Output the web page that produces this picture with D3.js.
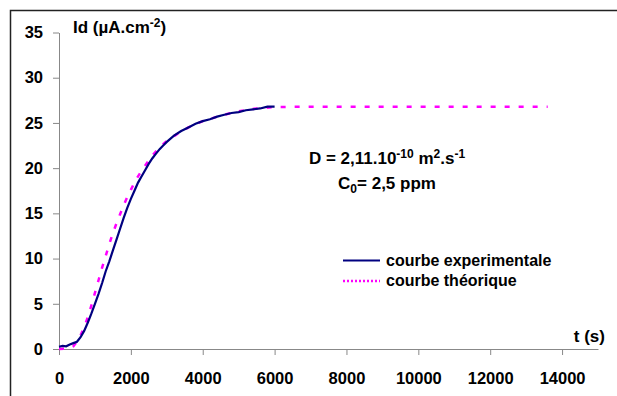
<!DOCTYPE html>
<html lang="fr">
<head>
    <meta charset="UTF-8">
    <title>Id en fonction du temps</title>
    <script src="https://d3js.org/d3.v7.min.js"></script>
    <style>
        body { margin: 0; background: #fff; }
        text { font-family: "Liberation Sans", Arial, sans-serif; font-weight: bold; fill: #000; }
        .axis path, .axis line { stroke: #888; }
        .axis text { font-size: 16.5px; font-family: "Liberation Sans", Arial, sans-serif; font-weight: bold; }
    </style>
</head>
<body>
    <svg width="617" height="396"></svg>

    <script>
        const experimental = [
            [0, 0.25], [100, 0.35], [200, 0.3], [300, 0.5], [400, 0.65], [500, 0.8],
            [600, 1.3], [700, 2.0], [800, 2.9], [900, 3.9], [1000, 5.0], [1100, 6.1],
            [1200, 7.3], [1300, 8.6], [1400, 9.7], [1500, 10.9], [1600, 12.1], [1700, 13.3],
            [1800, 14.5], [1900, 15.6], [2000, 16.6], [2100, 17.5], [2200, 18.4], [2300, 19.1],
            [2400, 19.8], [2500, 20.5], [2600, 21.1], [2700, 21.6], [2800, 22.1], [2900, 22.5],
            [3000, 22.9], [3200, 23.6], [3400, 24.1], [3600, 24.5], [3800, 24.9], [4000, 25.2],
            [4200, 25.4], [4400, 25.7], [4600, 25.9], [4800, 26.1], [5000, 26.2], [5200, 26.4],
            [5400, 26.5], [5600, 26.6], [5800, 26.8], [6000, 26.8]
        ];

        // Theoretical curve
        const theoretical = [
            [0, 0], [200, 0.02], [300, 0.1], [400, 0.3], [500, 0.8], [600, 1.5],
            [700, 2.4], [800, 3.5], [900, 4.8], [1000, 6.2], [1100, 7.6], [1200, 9.0],
            [1300, 10.3], [1400, 11.6], [1500, 12.8], [1600, 13.9], [1700, 14.9], [1800, 15.9],
            [1900, 16.8], [2000, 17.6], [2100, 18.4], [2200, 19.1], [2300, 19.7], [2400, 20.3],
            [2600, 21.4], [2800, 22.3], [3000, 23.0], [3300, 23.8], [3600, 24.5], [4000, 25.2],
            [4500, 25.8], [5000, 26.3], [5500, 26.6], [6000, 26.75], [7000, 26.8], [8000, 26.8],
            [9000, 26.8], [10000, 26.8], [11000, 26.8], [12000, 26.8], [13000, 26.8], [13600, 26.8]
        ];

        const xTicks = [0, 2000, 4000, 6000, 8000, 10000, 12000, 14000];
        const yTicks = [0, 5, 10, 15, 20, 25, 30, 35];
        const seriesNames = ["courbe experimentale", "courbe théorique"];

        const svg = d3.select("svg");

        // outer frame (cut off on the right and bottom)
        svg.append("rect")
            .attr("x", 10.5).attr("y", 10.5)
            .attr("width", 700).attr("height", 500)
            .attr("fill", "none")
            .attr("stroke", "#222")
            .attr("stroke-width", 1.5);

        const x = d3.scaleLinear().domain([0, 15000]).range([59, 598]);
        const y = d3.scaleLinear().domain([0, 35]).range([349, 32.5]);

        // Axes
        svg.append("g")
            .attr("class", "axis")
            .attr("transform", "translate(0,349)")
            .call(d3.axisBottom(x).tickValues(xTicks).tickFormat(d3.format("d"))
                .tickSize(6).tickSizeOuter(0).tickPadding(17));

        svg.append("g")
            .attr("class", "axis")
            .attr("transform", "translate(59,0)")
            .call(d3.axisLeft(y).tickValues(yTicks).tickSize(6).tickSizeOuter(0).tickPadding(10));

        svg.selectAll(".axis text").attr("fill", "#000");

        const line = d3.line()
            .x(d => x(d[0]))
            .y(d => y(d[1]));

        // theoretical curve (dotted magenta)
        svg.append("path")
            .datum(theoretical)
            .attr("fill", "none")
            .attr("stroke", "#ff00ff")
            .attr("stroke-width", 2.5)
            .attr("stroke-dasharray", "5,9")
            .attr("d", line);

        // experimental curve (navy)
        svg.append("path")
            .datum(experimental)
            .attr("fill", "none")
            .attr("stroke", "#000080")
            .attr("stroke-width", 2.2)
            .attr("d", line);

        // Axis titles
        const yTitle = svg.append("text").attr("x", 73).attr("y", 33).attr("font-size", 17);
        yTitle.append("tspan").text("Id (µA.cm");
        yTitle.append("tspan").attr("dy", -6).attr("font-size", 12).text("-2");
        yTitle.append("tspan").attr("dy", 6).text(")");

        svg.append("text")
            .attr("x", 605).attr("y", 342)
            .attr("text-anchor", "end")
            .attr("font-size", 17)
            .text("t (s)");

        // Annotation
        const ann1 = svg.append("text").attr("x", 387).attr("y", 164)
            .attr("text-anchor", "middle").attr("font-size", 17);
        ann1.append("tspan").text("D = 2,11.10");
        ann1.append("tspan").attr("dy", -6).attr("font-size", 12).text("-10");
        ann1.append("tspan").attr("dy", 6).text(" m");
        ann1.append("tspan").attr("dy", -6).attr("font-size", 12).text("2");
        ann1.append("tspan").attr("dy", 6).text(".s");
        ann1.append("tspan").attr("dy", -6).attr("font-size", 12).text("-1");

        const ann2 = svg.append("text").attr("x", 387).attr("y", 189)
            .attr("text-anchor", "middle").attr("font-size", 17);
        ann2.append("tspan").text("C");
        ann2.append("tspan").attr("dy", 4).attr("font-size", 12).text("0");
        ann2.append("tspan").attr("dy", -4).text("= 2,5 ppm");

        // Legend
        const legend = svg.append("g");
        legend.append("line")
            .attr("x1", 343).attr("x2", 380).attr("y1", 260.5).attr("y2", 260.5)
            .attr("stroke", "#000080").attr("stroke-width", 2);
        legend.append("line")
            .attr("x1", 343).attr("x2", 380).attr("y1", 281).attr("y2", 281)
            .attr("stroke", "#ff00ff").attr("stroke-width", 2.5).attr("stroke-dasharray", "2,2");
        legend.selectAll(".leg-text")
            .data(seriesNames)
            .join("text")
            .attr("class", "leg-text")
            .attr("x", 386)
            .attr("y", (d, i) => 265.5 + i * 20)
            .attr("font-size", 16)
            .text(d => d);
    </script>
</body>
</html>
